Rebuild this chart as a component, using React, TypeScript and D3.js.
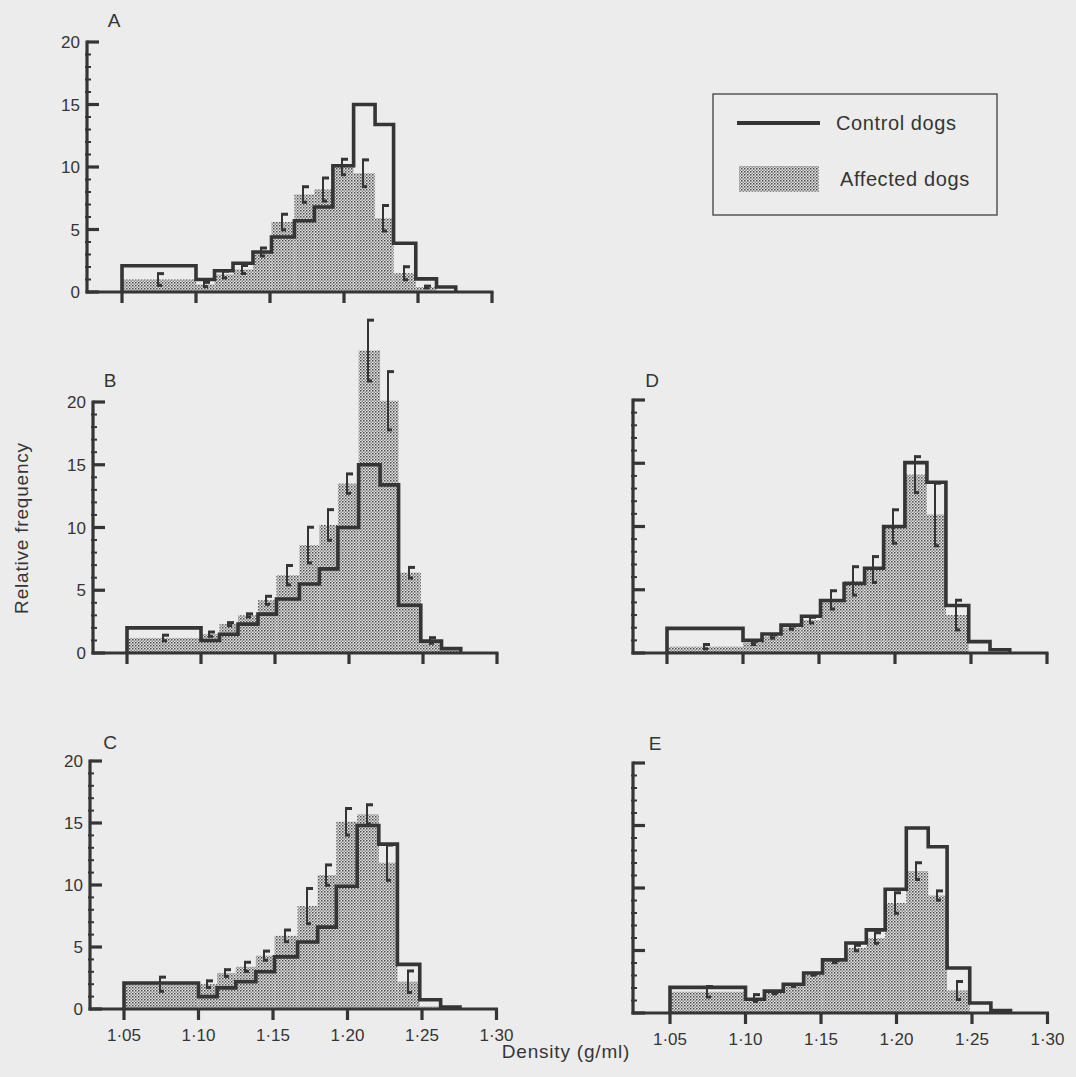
import React from "react";
import * as d3 from "d3";

// bin edges (g/ml) – one wide bin then the narrow gradient fractions
const binEdges = [1.05, 1.1, 1.1125, 1.125, 1.1385, 1.151, 1.1665, 1.18, 1.1925, 1.2065, 1.221, 1.2335, 1.2485, 1.2625, 1.2755];

const controlA = [2.1, 1.0, 1.7, 2.3, 3.2, 4.4, 5.7, 6.8, 10.1, 15.0, 13.4, 3.9, 1.05, 0.4];
const affectedA = [1.0, 0.6, 1.4, 1.8, 3.2, 5.6, 7.8, 8.2, 10.0, 9.5, 5.9, 1.5, 0.4, 0];
const errA = [0.55, 0.25, 0.35, 0.4, 0.4, 0.7, 0.7, 1.0, 0.7, 1.15, 1.1, 0.6, 0.15, 0];

const controlB = [2.0, 1.0, 1.5, 2.3, 3.1, 4.3, 5.5, 6.7, 10.0, 15.0, 13.4, 3.8, 0.95, 0.35];
const affectedB = [1.2, 1.5, 2.3, 3.0, 4.2, 6.2, 8.6, 10.2, 13.5, 24.1, 20.1, 6.4, 1.0, 0.2];
const errB = [0.3, 0.25, 0.2, 0.2, 0.4, 0.85, 1.5, 1.3, 0.85, 2.5, 2.4, 0.5, 0.3, 0];

const controlC = [2.1, 1.0, 1.7, 2.2, 3.0, 4.2, 5.4, 6.6, 9.9, 14.8, 13.3, 3.6, 0.75, 0.15];
const affectedC = [2.0, 2.0, 2.9, 3.4, 4.3, 5.9, 8.3, 10.8, 15.1, 15.7, 11.8, 2.2, 0.2, 0];
const errC = [0.65, 0.35, 0.35, 0.45, 0.45, 0.55, 1.5, 0.9, 1.15, 0.85, 1.5, 0.95, 0, 0];

const controlD = [1.95, 1.0, 1.5, 2.2, 2.9, 4.15, 5.5, 6.7, 10.0, 15.05, 13.5, 3.75, 0.9, 0.26];
const affectedD = [0.5, 0.8, 1.3, 2.0, 2.6, 4.2, 5.7, 6.6, 10.0, 14.1, 10.95, 3.0, 0, 0];
const errD = [0.25, 0.2, 0.2, 0.2, 0.3, 0.8, 1.2, 1.1, 1.4, 1.5, 2.55, 1.25, 0, 0];

const controlE = [2.05, 1.1, 1.75, 2.3, 3.2, 4.25, 5.6, 6.65, 9.9, 14.8, 13.3, 3.6, 0.8, 0.2];
const affectedE = [1.7, 1.2, 1.6, 2.2, 3.1, 4.1, 5.2, 6.0, 8.8, 11.35, 9.4, 1.8, 0, 0];
const errE = [0.5, 0.35, 0.15, 0.15, 0.15, 0.15, 0.3, 0.5, 0.9, 0.75, 0.45, 0.8, 0, 0];

const xTickValues = [1.05, 1.1, 1.15, 1.2, 1.25, 1.3];
const xTickLabels = ["1·05", "1·10", "1·15", "1·20", "1·25", "1·30"];
const yMajorTicks = [0, 5, 10, 15, 20];

const INK = "#353535";
const FONT = "'Liberation Sans', Arial, sans-serif";

// where each panel sits on the page
const panels = [
  { name: "A", control: controlA, affected: affectedA, err: errA, ax: 87, y0: 292, y20: 42, x105: 122, x125: 418, lx: 114, ly: 20, yLab: true, xLab: false },
  { name: "B", control: controlB, affected: affectedB, err: errB, ax: 93, y0: 653, y20: 402, x105: 127, x125: 423, lx: 110, ly: 380, yLab: true, xLab: false },
  { name: "C", control: controlC, affected: affectedC, err: errC, ax: 90, y0: 1009, y20: 761, x105: 124, x125: 422, lx: 110, ly: 742, yLab: true, xLab: true },
  { name: "D", control: controlD, affected: affectedD, err: errD, ax: 633, y0: 653, y20: 400, x105: 667, x125: 971, lx: 652, ly: 380, yLab: false, xLab: false },
  { name: "E", control: controlE, affected: affectedE, err: errE, ax: 633, y0: 1013, y20: 763, x105: 670, x125: 972, lx: 655, ly: 743, yLab: false, xLab: true },
];

const Panel = ({ p }: { p: any }) => {
  const x = d3.scaleLinear().domain([1.05, 1.25]).range([p.x105, p.x125]);
  const y = d3.scaleLinear().domain([0, 20]).range([p.y0, p.y20]);

  const stepPts: [number, number][] = [[binEdges[0], 0]];
  p.control.forEach((v: number, i: number) => stepPts.push([binEdges[i], v]));
  stepPts.push([binEdges[binEdges.length - 1], 0]);
  const stepLine = d3
    .line<[number, number]>()
    .x((d) => x(d[0]))
    .y((d) => y(d[1]))
    .curve(d3.curveStepAfter);

  const minor = d3.range(0, 21).filter((v) => v % 5 !== 0);

  return (
    <g>
      {/* affected dogs – stippled bars */}
      {p.affected.map((v: number, i: number) =>
        v > 0 ? (
          <rect
            key={"a" + i}
            x={x(binEdges[i])}
            y={y(v)}
            width={x(binEdges[i + 1]) - x(binEdges[i])}
            height={y(0) - y(v)}
            fill="url(#stipple)"
          />
        ) : null
      )}

      {/* axes */}
      <line x1={p.ax} x2={p.ax} y1={y(0) + 1.5} y2={y(20) - 1.5} stroke={INK} strokeWidth={3.2} />
      <line x1={p.ax - 1.5} x2={x(1.3) + 1.5} y1={y(0)} y2={y(0)} stroke={INK} strokeWidth={3.2} />
      {yMajorTicks.map((t) => (
        <line key={"ym" + t} x1={p.ax} x2={p.ax + 12} y1={y(t)} y2={y(t)} stroke={INK} strokeWidth={3.2} />
      ))}
      {minor.map((t) => (
        <line key={"yn" + t} x1={p.ax - 2} x2={p.ax + 4} y1={y(t)} y2={y(t)} stroke={INK} strokeWidth={2} />
      ))}
      {xTickValues.map((t) => (
        <line key={"xt" + t} x1={x(t)} x2={x(t)} y1={y(0)} y2={y(0) + 11} stroke={INK} strokeWidth={3.2} />
      ))}

      {/* control dogs – step outline */}
      <path d={stepLine(stepPts) || ""} fill="none" stroke={INK} strokeWidth={3.6} strokeLinejoin="miter" />

      {/* error bars on affected */}
      {p.affected.map((v: number, i: number) => {
        const e = p.err[i];
        if (!(e > 0)) return null;
        const cx = Math.round((x(binEdges[i]) + x(binEdges[i + 1])) / 2) - 1;
        return (
          <g key={"e" + i}>
            <line x1={cx} x2={cx} y1={y(v + e)} y2={y(v - e)} stroke={INK} strokeWidth={2} />
            <line x1={cx - 1} x2={cx + 6} y1={y(v + e) + 1} y2={y(v + e) + 1} stroke={INK} strokeWidth={3} />
            <line x1={cx - 1} x2={cx + 4} y1={y(v - e) - 1} y2={y(v - e) - 1} stroke={INK} strokeWidth={3} />
          </g>
        );
      })}

      {/* labels */}
      <text x={p.lx} y={p.ly + 7} fontSize={19} fill={INK} textAnchor="middle" fontFamily={FONT}>
        {p.name}
      </text>
      {p.yLab &&
        yMajorTicks.map((t) => (
          <text key={"yl" + t} x={p.ax - 7} y={y(t) + 6} fontSize={17} fill={INK} textAnchor="end" fontFamily={FONT}>
            {t}
          </text>
        ))}
      {p.xLab &&
        xTickValues.map((t, i) => (
          <text key={"xl" + t} x={x(t)} y={y(0) + 32} fontSize={17} fill={INK} textAnchor="middle" fontFamily={FONT}>
            {xTickLabels[i]}
          </text>
        ))}
    </g>
  );
};

const App = () => {
  return (
    <svg
      width={1076}
      height={1077}
      style={{ position: "absolute", left: 0, top: 0, background: "#ececec" }}
    >
      <defs>
        <pattern id="stipple" patternUnits="userSpaceOnUse" width={3} height={3}>
          <rect width={3} height={3} fill="#e2e2e2" />
          <rect x={0} y={0} width={1.5} height={1.5} fill="#4a4a4a" />
          <rect x={1.5} y={1.5} width={1.5} height={1.5} fill="#8a8a8a" />
        </pattern>
      </defs>

      {panels.map((p) => (
        <Panel key={p.name} p={p} />
      ))}

      {/* legend */}
      <rect x={713} y={94} width={284} height={121} fill="none" stroke="#555" strokeWidth={1.5} />
      <line x1={737} x2={820} y1={123} y2={123} stroke={INK} strokeWidth={4} />
      <text x={836} y={130} fontSize={20} fill={INK} fontFamily={FONT} letterSpacing={0.6}>
        Control dogs
      </text>
      <rect x={739} y={166} width={80} height={26} fill="url(#stipple)" />
      <text x={840} y={186} fontSize={20} fill={INK} fontFamily={FONT} letterSpacing={0.6}>
        Affected dogs
      </text>

      {/* axis titles */}
      <text
        transform="translate(28,528) rotate(-90)"
        fontSize={19}
        fill={INK}
        textAnchor="middle"
        fontFamily={FONT}
        letterSpacing={0.8}
      >
        Relative frequency
      </text>
      <text x={566} y={1058} fontSize={19} fill={INK} textAnchor="middle" fontFamily={FONT} letterSpacing={0.8}>
        Density (g/ml)
      </text>
    </svg>
  );
};

export default App;
